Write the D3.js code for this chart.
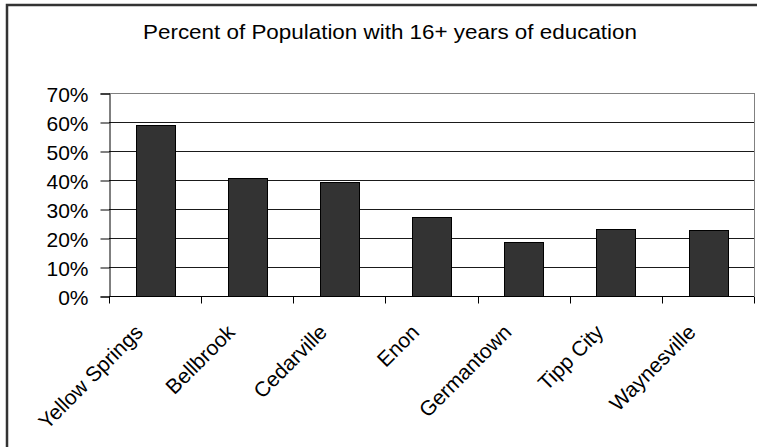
<!DOCTYPE html>
<html>
<head>
<meta charset="utf-8">
<script src="https://cdn.jsdelivr.net/npm/d3@7"></script>
<style>
  body { margin: 0; background: #fff; }
  text { font-family: "Liberation Sans", Arial, sans-serif; fill: #000; }
</style>
</head>
<body>
<svg id="main-svg"></svg>
<script>
// data
const towns = ["Yellow Springs", "Bellbrook", "Cedarville", "Enon", "Germantown", "Tipp City", "Waynesville"];
const pctDegree = [0.59, 0.408, 0.393, 0.273, 0.186, 0.232, 0.228];
const yTicks = [0, 0.1, 0.2, 0.3, 0.4, 0.5, 0.6, 0.7];
const chartTitle = "Percent of Population with 16+ years of education";

let width = 757, height = 447;
let margin = {top: 93, right: 3, bottom: 151, left: 109};

let svg = d3.select('#main-svg').attr('width', width).attr('height', height);

// outer chart border
svg.append('rect')
  .attr('x', 7).attr('y', 5)
  .attr('width', width + 10).attr('height', height + 10)
  .attr('fill', '#fff')
  .attr('stroke', '#333')
  .attr('stroke-width', 2.5);

svg.append('text')
  .attr('x', 390).attr('y', 39)
  .attr('text-anchor', 'middle')
  .style('font-size', '20.5px')
  .attr('textLength', 494)
  .attr('lengthAdjust', 'spacingAndGlyphs')
  .text(chartTitle);

let x = d3.scaleBand().domain(towns).range([margin.left, width - margin.right]);
let y = d3.scaleLinear().domain([0, 0.7]).range([height - margin.bottom, margin.top]);
let barW = x.bandwidth() * 0.42;

let g = svg.append('g');

// gridlines
g.selectAll('.grid')
  .data(yTicks.slice(1))
  .enter()
  .append('line')
  .attr('x1', margin.left).attr('x2', width - margin.right)
  .attr('y1', d => Math.round(y(d)) + 0.5).attr('y2', d => Math.round(y(d)) + 0.5)
  .attr('stroke', d => d === 0.7 ? '#808080' : '#1a1a1a')
  .attr('stroke-width', 1);

// plot area right edge
g.append('line')
  .attr('x1', width - margin.right + 0.5).attr('x2', width - margin.right + 0.5)
  .attr('y1', y(0.7)).attr('y2', y(0))
  .attr('stroke', '#808080');

// bars
g.selectAll('.bar')
  .data(pctDegree)
  .enter()
  .append('rect')
  .attr('x', (d, i) => Math.round(x(towns[i]) + x.bandwidth() / 2 - barW / 2) + 0.5)
  .attr('y', d => Math.round(y(d)) + 0.5)
  .attr('width', Math.round(barW))
  .attr('height', d => Math.round(y(0)) - Math.round(y(d)))
  .attr('fill', '#333333')
  .attr('stroke', '#000')
  .attr('stroke-width', 1);

// y axis
let yAxis = d3.axisLeft(y)
  .tickValues(yTicks)
  .tickFormat(d3.format('.0%'))
  .tickSize(9)
  .tickPadding(12);

let ya = svg.append('g')
  .attr('transform', `translate(${margin.left + 0.5},0.5)`)
  .call(yAxis);
ya.select('.domain').attr('stroke', '#000');
ya.selectAll('.tick line').attr('stroke', '#000');
ya.selectAll('.tick text')
  .style('font-size', '21px')
  .style('font-family', '"Liberation Sans", Arial, sans-serif')
  .attr('dy', '0.36em')
  .attr('fill', '#000');

// x axis: ticks sit between categories
let xa = svg.append('g')
  .attr('transform', `translate(0,${Math.round(y(0)) + 0.5})`);
xa.append('line')
  .attr('x1', margin.left).attr('x2', width - margin.right)
  .attr('stroke', '#000');
let boundaries = towns.map(t => x(t)).concat([x(towns[towns.length - 1]) + x.bandwidth()]);
xa.selectAll('.xtick')
  .data(boundaries)
  .enter()
  .append('line')
  .attr('x1', d => Math.round(d) + 0.5).attr('x2', d => Math.round(d) + 0.5)
  .attr('y1', 0).attr('y2', 7)
  .attr('stroke', '#000');

xa.selectAll('.xlabel')
  .data(towns)
  .enter()
  .append('text')
  .attr('text-anchor', 'end')
  .style('font-size', '21px')
  .attr('transform', d => `translate(${x(d) + x.bandwidth() / 2 - 11},37) rotate(-45)`)
  .text(d => d);
</script>
</body>
</html>
